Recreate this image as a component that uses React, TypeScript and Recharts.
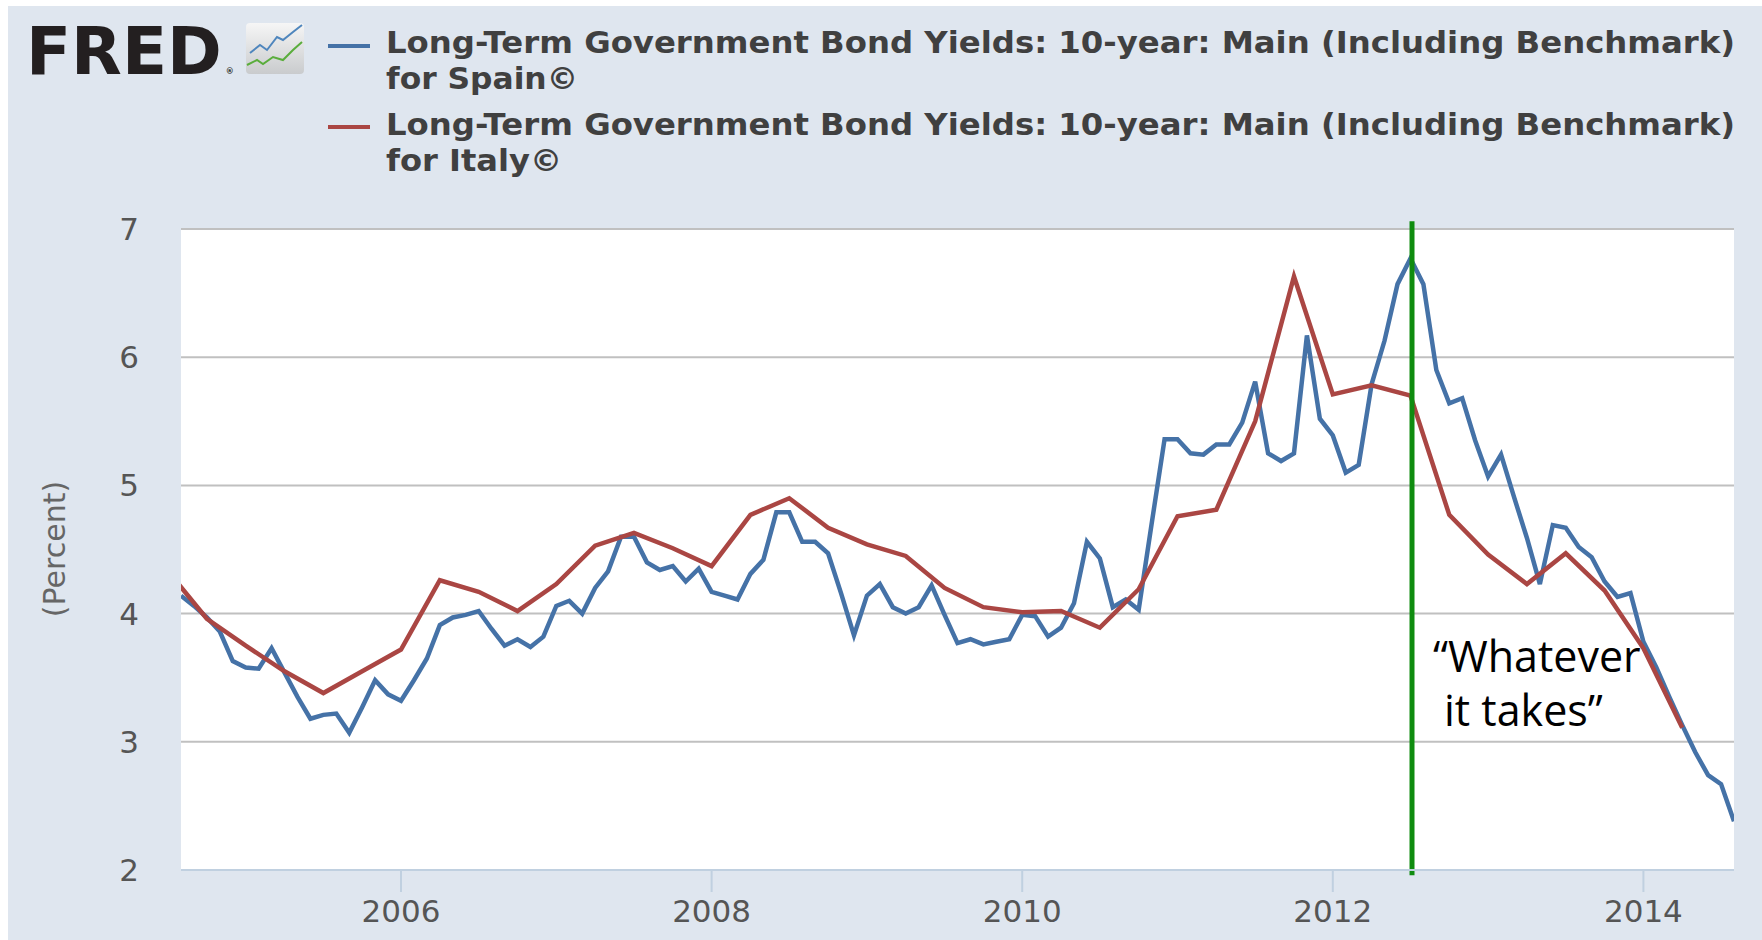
import { CartesianGrid, Label, Line, LineChart, ReferenceLine, XAxis, YAxis } from "recharts";

// monthly, Aug 2004 .. Aug 2014
const spainYields = [
    4.14, 4.06, 3.97, 3.86, 3.63,
    3.58, 3.57, 3.73, 3.54, 3.35, 3.18, 3.21, 3.22, 3.07, 3.27, 3.48, 3.37,
    3.32, 3.48, 3.65, 3.91, 3.97, 3.99, 4.02, 3.88, 3.75, 3.80, 3.74, 3.82,
    4.06, 4.10, 4.00, 4.20, 4.33, 4.60, 4.60, 4.40, 4.34, 4.37, 4.25, 4.35,
    4.17, 4.14, 4.11, 4.31, 4.42, 4.79, 4.79, 4.56, 4.56, 4.47, 4.16, 3.83,
    4.14, 4.23, 4.05, 4.00, 4.05, 4.22, 3.99, 3.77, 3.80, 3.76, 3.78, 3.80,
    3.99, 3.98, 3.82, 3.89, 4.08, 4.56, 4.43, 4.05, 4.11, 4.03, 4.70, 5.36,
    5.36, 5.25, 5.24, 5.32, 5.32, 5.49, 5.81, 5.25, 5.19, 5.25, 6.17, 5.52,
    5.39, 5.10, 5.16, 5.79, 6.13, 6.57, 6.77, 6.57, 5.90, 5.64, 5.68, 5.35,
    5.07, 5.24, 4.91, 4.59, 4.23, 4.69, 4.67, 4.52, 4.44, 4.25, 4.13, 4.16,
    3.78, 3.58, 3.35, 3.13, 2.92, 2.74, 2.67, 2.38
];

// quarterly, Jul 2004 .. Apr 2014
const italyYields = [
    4.33, 3.96,
    3.75, 3.55, 3.38, 3.55,
    3.72, 4.26, 4.17, 4.02,
    4.23, 4.53, 4.63, 4.51,
    4.37, 4.77, 4.90, 4.67,
    4.54, 4.45, 4.20, 4.05,
    4.01, 4.02, 3.89, 4.19,
    4.76, 4.81, 5.50, 6.63,
    5.71, 5.78, 5.70, 4.77,
    4.46, 4.23, 4.47, 4.18,
    3.73, 3.11
];

const yearTicks = [2006, 2008, 2010, 2012, 2014];
const percentTicks = [2, 3, 4, 5, 6, 7];
const whateverItTakes = 2012.51;

const legendNames = [
    "Long-Term Government Bond Yields: 10-year: Main (Including Benchmark)",
    "for Spain©",
    "Long-Term Government Bond Yields: 10-year: Main (Including Benchmark)",
    "for Italy©"
];

const spainData = spainYields.map((v, i) => ({ t: (2004 * 12 + 7 + i) / 12, v }));
const italyData = italyYields.map((v, i) => ({ t: (2004 * 12 + 6 + i * 3) / 12, v }));

const tickFont = { fontFamily: "DejaVu Sans", fontSize: 31, fill: "#555" };

const Header = () => (
    <svg width={1762} height={200} style={{ position: "absolute", left: 0, top: 0 }}>
        <defs>
            <linearGradient id="icon" x1="0" y1="0" x2="0" y2="1">
                <stop offset="0" stopColor="#f6f6f6" />
                <stop offset="1" stopColor="#c9cbcd" />
            </linearGradient>
        </defs>
        <text x={26} y={74} fontFamily="DejaVu Sans" fontWeight="bold" fill="#231f20">
            <tspan fontSize={66}>FRED</tspan>
            <tspan fontSize={8} dx={4}>®</tspan>
        </text>
        <rect x={246} y={23} width={58} height={51} rx={4} fill="url(#icon)" />
        <polyline points="250,53 260,45 267,50 277,37 283,40 293,32 302,25" fill="none" stroke="#4f86bd" strokeWidth={2} />
        <polyline points="247,65 257,60 263,64 273,57 283,60 293,50 302,42" fill="none" stroke="#5aad3c" strokeWidth={2} />

        <line x1={328} x2={370} y1={46} y2={46} stroke="#4572A7" strokeWidth={4} />
        <line x1={328} x2={370} y1={127} y2={127} stroke="#AA4643" strokeWidth={4} />
        <g fontFamily="DejaVu Sans" fontWeight="bold" fontSize={30} fill="#404040">
            <text x={386} y={53} textLength={1349} lengthAdjust="spacingAndGlyphs">{legendNames[0]}</text>
            <text x={386} y={89} textLength={192} lengthAdjust="spacingAndGlyphs">{legendNames[1]}</text>
            <text x={386} y={135} textLength={1349} lengthAdjust="spacingAndGlyphs">{legendNames[2]}</text>
            <text x={386} y={171} textLength={176} lengthAdjust="spacingAndGlyphs">{legendNames[3]}</text>
        </g>
    </svg>
);

const PercentLabel = () => (
    <text x={54} y={549} transform="rotate(-90 54 549)" textAnchor="middle" dominantBaseline="central"
          fontFamily="DejaVu Sans" fontSize={30} fill="#666">(Percent)</text>
);

const App = () => {
    return (
        <div style={{ position: "absolute", left: 0, top: 0, width: 1762, height: 940, background: "#fff" }}>
            <div style={{ position: "absolute", left: 8, top: 6, width: 1754, height: 934, background: "#dfe6ef" }} />
            <Header />
            <div style={{ position: "absolute", left: 0, top: 0 }}>
                <LineChart width={1762} height={940} margin={{ top: 229, right: 28, bottom: 10, left: 101 }}>
                    <CartesianGrid vertical={false} stroke="#c0c0c0" strokeWidth={2} fill="#fff" fillOpacity={1} />
                    <XAxis dataKey="t" type="number" domain={[2004 + 7 / 12, 2014 + 7 / 12]} allowDataOverflow
                           ticks={yearTicks} height={60} tickSize={22} tickMargin={8}
                           tick={tickFont} tickLine={{ stroke: "#c0d0e0", strokeWidth: 2 }}
                           axisLine={{ stroke: "#c0d0e0", strokeWidth: 2 }} />
                    <YAxis type="number" domain={[2, 7]} ticks={percentTicks} width={80}
                           axisLine={false} tickLine={false} tickSize={0} tickMargin={42} tick={tickFont}>
                        <Label content={<PercentLabel />} />
                    </YAxis>
                    <Line data={spainData} dataKey="v" type="linear" stroke="#4572A7" strokeWidth={4.5}
                          dot={false} isAnimationActive={false} />
                    <Line data={italyData} dataKey="v" type="linear" stroke="#AA4643" strokeWidth={4.5}
                          dot={false} isAnimationActive={false} />
                    <ReferenceLine segment={[{ x: whateverItTakes, y: 1.96 }, { x: whateverItTakes, y: 7.06 }]}
                                   stroke="#0f8c0f" strokeWidth={5} ifOverflow="visible" />
                </LineChart>
            </div>
            <svg width={1762} height={940} style={{ position: "absolute", left: 0, top: 0, pointerEvents: "none" }}>
                <g fontFamily="Open Sans" fontSize={43} fill="#000">
                    <text x={1433} y={672}>“Whatever</text>
                    <text x={1444} y={726}>it takes”</text>
                </g>
            </svg>
        </div>
    );
};

export default App;
